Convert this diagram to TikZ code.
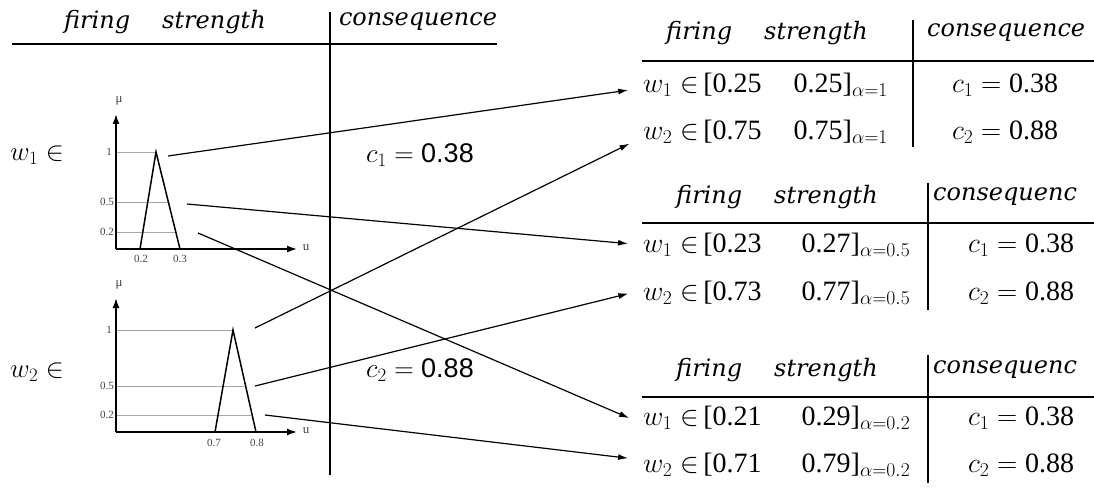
\RequirePackage{fix-cm}
\documentclass[tikz,border=0pt]{standalone}
\usepackage{fontspec}
\setmainfont{Liberation Serif}
\newfontfamily\headfont{DejaVu Serif}
\newfontfamily\numsans{Liberation Sans}
\usetikzlibrary{arrows.meta, positioning, calc}

\begin{document}
\begin{tikzpicture}[
  x=1pt, y=-1pt,
  node distance=4pt and 6pt,
  head/.style={inner sep=0pt, font=\fontsize{24}{28}\selectfont\headfont\itshape},
  row/.style={anchor=west, inner sep=0pt, font=\fontsize{28}{30}\selectfont},
  cons/.style={inner sep=0pt, font=\fontsize{28}{30}\selectfont},
  lbl/.style={inner sep=0pt, font=\fontsize{27}{30}\selectfont},
  tick/.style={inner sep=0pt, font=\fontsize{11}{12}\selectfont, text=black!75},
  rule/.style={line width=1.3pt},
  lvl/.style={gray!70, line width=0.8pt},
  mf/.style={line width=1.5pt},
  axis/.style={-{Latex[length=10pt,width=7pt]}, line width=1.5pt},
  arr/.style={-{Latex[length=10pt,width=6pt]}, line width=1.2pt, shorten >=15pt}
]
\useasboundingbox (0,0) rectangle (1094,489);

% left table
\node[head] (fs0) at (165,22) {firing\hspace{32pt}strength};
\node[head] (cq0) at (418,22) {consequence};
\draw[rule] (12,44) -- (497,44);
\draw[rule] (330,12) -- (330,475);
\node[lbl] (w1) at (37,155) {$w_1\in$};
\node[lbl] (w2) at (37,372) {$w_2\in$};
\node[lbl] (c1) at (420,155) {$c_1={}${\numsans 0.38}};
\node[lbl] (c2) at (420,370) {$c_2={}${\numsans 0.88}};

% membership function of w1
\draw[lvl] (116,152) -- (156,152);
\draw[lvl] (116,202) -- (168,202);
\draw[lvl] (116,232) -- (176,232);
\draw[axis] (116,249) -- (116,114);
\draw[axis] (116,249) -- (297,249);
\draw[mf] (140,249) -- (156,152) -- (180,249);
\node[tick, font=\fontsize{13}{14}\selectfont] (mu1) at (119,101) {μ};
\node[tick, font=\fontsize{13}{14}\selectfont] (u1) at (306,248) {u};
\node[tick, anchor=east] at (112,152) {1};
\node[tick, anchor=east] at (114,202) {0.5};
\node[tick, anchor=east] at (114,232) {0.2};
\node[tick] at (141,259) {0.2};
\node[tick] at (180,259) {0.3};

% membership function of w2
\draw[lvl] (116,330) -- (233,330);
\draw[lvl] (116,386) -- (244,386);
\draw[lvl] (116,415) -- (251,415);
\draw[axis] (116,432) -- (116,298);
\draw[axis] (116,432) -- (297,432);
\draw[mf] (215,432) -- (233,330) -- (256,432);
\node[tick, font=\fontsize{13}{14}\selectfont] (mu2) at (119,285) {μ};
\node[tick, font=\fontsize{13}{14}\selectfont] (u2) at (306,431) {u};
\node[tick, anchor=east] at (112,330) {1};
\node[tick, anchor=east] at (114,386) {0.5};
\node[tick, anchor=east] at (114,415) {0.2};
\node[tick] at (214,443) {0.7};
\node[tick] at (257,443) {0.8};

% alpha = 1
\node[head] (fs1) at (767,33) {firing\hspace{32pt}strength};
\node[head, anchor=west] (cq1) at (927,33) {consequence};
\draw[rule] (642,61) -- (1094,61);
\draw[rule] (913,20) -- (913,147);
\node[row] (t1r1) at (643,85) {$w_1\in$\,[0.25\hspace{32pt}0.25]$_{\alpha=1}$};
\node[row] (t1r2) at (643,132) {$w_2\in$\,[0.75\hspace{32pt}0.75]$_{\alpha=1}$};
\node[cons] (t1c1) at (1005,85) {$c_1={}$0.38};
\node[cons] (t1c2) at (1005,132) {$c_2={}$0.88};

% alpha = 0.5
\node[head] (fs2) at (777,197) {firing\hspace{32pt}strength};
\node[head, anchor=west] (cq2) at (933,197) {consequenc};
\draw[rule] (642,223) -- (1094,223);
\draw[rule] (928,183) -- (928,310);
\node[row] (t2r1) at (643,245) {$w_1\in$\,[0.23\hspace{40pt}0.27]$_{\alpha=0.5}$};
\node[row] (t2r2) at (643,293) {$w_2\in$\,[0.73\hspace{40pt}0.77]$_{\alpha=0.5}$};
\node[cons] (t2c1) at (1021,245) {$c_1={}$0.38};
\node[cons] (t2c2) at (1021,293) {$c_2={}$0.88};

% alpha = 0.2
\node[head] (fs3) at (777,370) {firing\hspace{32pt}strength};
\node[head, anchor=west] (cq3) at (933,370) {consequenc};
\draw[rule] (642,397) -- (1094,397);
\draw[rule] (928,355) -- (928,483);
\node[row] (t3r1) at (643,418) {$w_1\in$\,[0.21\hspace{40pt}0.29]$_{\alpha=0.2}$};
\node[row] (t3r2) at (643,465) {$w_2\in$\,[0.71\hspace{40pt}0.79]$_{\alpha=0.2}$};
\node[cons] (t3c1) at (1021,418) {$c_1={}$0.38};
\node[cons] (t3c2) at (1021,465) {$c_2={}$0.88};

% alpha-cuts to the tables
\coordinate (wa1) at (168,156);
\coordinate (wa5) at (187,204);
\coordinate (wa2) at (198,233);
\coordinate (wb1) at (255,328);
\coordinate (wb5) at (255,386);
\coordinate (wb2) at (265,415);
\draw[arr] (wa1) -- ([yshift=-3pt]t1r1.west);
\draw[arr] (wb1) -- ([yshift=-5pt]t1r2.west);
\draw[arr] (wa5) -- (t2r1.west);
\draw[arr] (wb5) -- ([yshift=3pt]t2r2.west);
\draw[arr] (wa2) -- ([yshift=-6pt]t3r1.west);
\draw[arr] (wb2) -- ([yshift=5pt]t3r2.west);
\end{tikzpicture}
\end{document}
